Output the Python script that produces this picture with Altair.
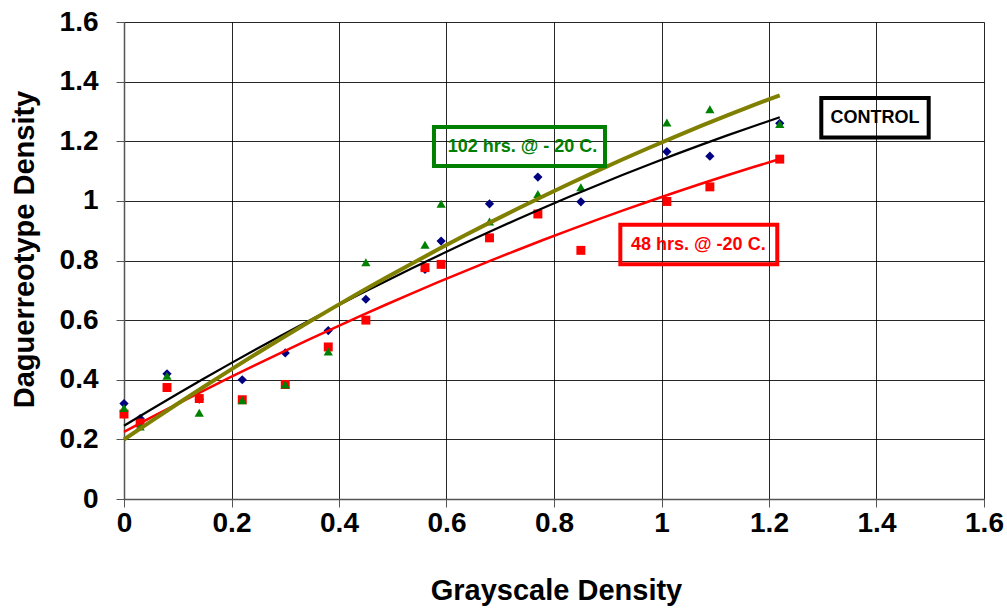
import altair as alt
import pandas as pd

# ---- data ----
x_vals = [0.0, 0.03, 0.08, 0.14, 0.22, 0.30, 0.38, 0.45, 0.56, 0.59, 0.68, 0.77, 0.85, 1.01, 1.09, 1.22]
control = [0.32, 0.27, 0.42, 0.335, 0.40, 0.49, 0.565, 0.67, 0.77, 0.865, 0.99, 1.08, 0.997, 1.165, 1.15, 1.26]
hrs48 = [0.285, 0.255, 0.374, 0.337, 0.333, 0.384, 0.51, 0.60, 0.776, 0.787, 0.876, 0.956, 0.834, 0.998, 1.047, 1.14]
hrs102 = [0.305, 0.243, 0.413, 0.289, 0.331, 0.384, 0.495, 0.794, 0.853, 0.99, 0.931, 1.023, 1.046, 1.263, 1.307, 1.258]

series_names = ["control", "48 hrs", "102 hrs"]
tick_vals = [0, 0.2, 0.4, 0.6, 0.8, 1.0, 1.2, 1.4, 1.6]

# annotation boxes (data units)
ann_labels = ["102 hrs. @ - 20 C.", "48 hrs. @ -20 C.", "CONTROL"]
ann_colors = ["#008000", "#FF0000", "#000000"]
ann_x = [0.7414, 1.0685, 1.3972]
ann_y = [1.1795, 0.8504, 1.2779]
box_x1 = [0.5767, 0.9234, 1.2973]
box_x2 = [0.8949, 1.2154, 1.4971]
box_y1 = [1.1172, 0.7877, 1.2129]
box_y2 = [1.2477, 0.9197, 1.3448]

rows = []
for name, vals in zip(series_names, [control, hrs48, hrs102]):
    for xv, yv in zip(x_vals, vals):
        rows.append({"series": name, "x": xv, "y": yv})
df = pd.DataFrame(rows)

ann = pd.DataFrame({"label": ann_labels, "color": ann_colors, "tx": ann_x, "ty": ann_y,
                    "x1": box_x1, "x2": box_x2, "y1": box_y1, "y2": box_y2})

FONT = "Liberation Sans"
xs = alt.Scale(domain=[0, 1.6], nice=False, zero=False)
ys = alt.Scale(domain=[0, 1.6], nice=False, zero=False)

xaxis = alt.Axis(values=tick_vals, format="~g", title="Grayscale Density", labelFlush=False,
                 grid=True, labelPadding=2, titleX=432, titleY=100, titleBaseline="alphabetic")
yaxis = alt.Axis(values=tick_vals, format="~g", title="Daguerreotype Density", labelFlush=False,
                 grid=True, labelPadding=18, titleX=-91, titleY=227, titleBaseline="alphabetic")

base = alt.Chart(df)


def pts(name, shape, color, size):
    return base.transform_filter(alt.datum.series == name).mark_point(
        shape=shape, filled=True, color=color, size=size, opacity=1, strokeWidth=0
    ).encode(x=alt.X("x:Q", scale=xs, axis=xaxis), y=alt.Y("y:Q", scale=ys, axis=yaxis))


def trend(name, color, width):
    return base.transform_filter(alt.datum.series == name).transform_regression(
        "x", "y", method="poly", order=2
    ).mark_line(color=color, strokeWidth=width).encode(
        x=alt.X("x:Q", scale=xs, axis=xaxis), y=alt.Y("y:Q", scale=ys, axis=yaxis))


boxes = alt.Chart(ann).mark_rect(fillOpacity=0, strokeWidth=4).encode(
    x=alt.X("x1:Q", scale=xs, axis=xaxis), x2="x2:Q",
    y=alt.Y("y1:Q", scale=ys, axis=yaxis), y2="y2:Q",
    stroke=alt.Color("color:N", scale=None))

texts = alt.Chart(ann).mark_text(font=FONT, fontWeight="bold", fontSize=18,
                                  align="center", baseline="middle").encode(
    x=alt.X("tx:Q", scale=xs, axis=xaxis), y=alt.Y("ty:Q", scale=ys, axis=yaxis),
    text="label:N", color=alt.Color("color:N", scale=None))

chart = alt.layer(
    pts("control", "diamond", "#000080", 85),
    pts("48 hrs", "square", "#FF0000", 80),
    pts("102 hrs", "triangle-up", "#008000", 85),
    trend("control", "#000000", 2.2),
    trend("48 hrs", "#FF0000", 2.5),
    trend("102 hrs", "#808000", 4),
    boxes,
    texts,
).properties(
    width=860, height=477,
    autosize=alt.AutoSizeParams(type="none"),
    padding={"left": 124, "top": 22, "right": 23, "bottom": 109},
    background="white",
).configure_view(stroke=None).configure_axis(
    labelFont=FONT, labelFontWeight="bold", labelFontSize=28, labelColor="#000",
    titleFont=FONT, titleFontWeight="bold", titleFontSize=29, titleColor="#000",
    gridColor="#000", gridWidth=1, gridOpacity=0.85,
    domainColor="#555", domainWidth=1.5,
    tickColor="#555", tickSize=8, tickWidth=1,
)

chart.save("out.html", embed_options={"renderer": "svg", "actions": False})
